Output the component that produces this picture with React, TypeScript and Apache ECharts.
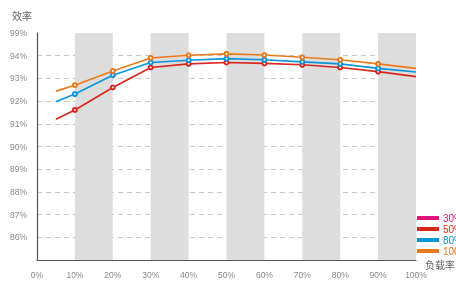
import React, { useEffect, useRef } from "react";
import * as echarts from "echarts";

const loadRates = [5, 10, 20, 30, 40, 50, 60, 70, 80, 90, 100];
const eff30: number[] = [];
const eff50 = [91.2, 91.61, 92.6, 93.48, 93.64, 93.7, 93.66, 93.6, 93.48, 93.3, 93.08];
const eff80 = [91.97, 92.31, 93.14, 93.7, 93.8, 93.87, 93.82, 93.73, 93.64, 93.44, 93.28];
const eff100 = [92.44, 92.7, 93.33, 93.9, 94.02, 94.08, 94.03, 93.93, 93.82, 93.64, 93.44];
const seriesNames = ["30%", "50%", "80%", "100%"];
const seriesColors = ["#e0157c", "#d9261c", "#0a94dc", "#ec7a1b"];
const yTickLabels: Record<number, string> = {
  86: "86%", 87: "87%", 88: "88%", 89: "89%", 90: "90%",
  91: "91%", 92: "92%", 93: "93%", 94: "94%", 95: "99%",
};
const xTickLabels = ["0%", "10%", "20%", "30%", "40%", "50%", "60%", "70%", "80%", "90%", "100%"];

const FONT = "'Liberation Sans', 'Noto Sans CJK SC', sans-serif";

function toPoints(vals: number[]) {
  return vals.map((v, i) => {
    const x = loadRates[i];
    const showSym = x !== 5 && x !== 100;
    return showSym ? [x, v] : { value: [x, v], symbol: "none" };
  });
}

export default function App() {
  const ref = useRef<HTMLDivElement>(null);
  useEffect(() => {
    if (!ref.current) return;
    const chart = echarts.init(ref.current, undefined, { renderer: "svg" });
    const all = [eff30, eff50, eff80, eff100];
    chart.setOption({
      animation: false,
      textStyle: { fontFamily: FONT },
      grid: { left: 37, right: 40, top: 33, bottom: 21, outerBoundsMode: "none", containLabel: false },
      legend: {
        orient: "vertical",
        left: 417,
        top: 213,
        padding: 0,
        icon: "rect",
        itemWidth: 22,
        itemHeight: 4,
        itemGap: 1,
        textStyle: { fontSize: 10, lineHeight: 10, padding: [0, 0, 0, -1] },
        data: seriesNames.map((n, i) => ({ name: n, textStyle: { color: seriesColors[i] } })),
      },
      xAxis: {
        type: "value",
        min: 0,
        max: 100,
        interval: 10,
        name: "负载率",
        nameLocation: "end",
        nameGap: 9,
        nameTextStyle: { color: "#666", fontSize: 10, verticalAlign: "top", padding: [0, 0, 0, 0] },
        axisLine: { lineStyle: { color: "#555", width: 1.2 } },
        axisTick: { show: false },
        axisLabel: {
          color: "#888",
          fontSize: 8.5,
          margin: 11,
          formatter: (v: number) => xTickLabels[Math.round(v / 10)] ?? "",
        },
        splitLine: { show: false },
        splitArea: { show: true, areaStyle: { color: ["rgba(255,255,255,0)", "#dddddd"] } },
      },
      yAxis: {
        type: "value",
        min: 85,
        max: 95,
        interval: 1,
        name: "效率",
        nameLocation: "end",
        nameGap: 12,
        nameTextStyle: { color: "#666", fontSize: 10, align: "right", padding: [0, 5, 0, 0] },
        axisLine: { show: true, lineStyle: { color: "#555", width: 1.2 } },
        axisTick: { show: false },
        axisLabel: {
          color: "#888",
          fontSize: 8.5,
          margin: 10,
          showMinLabel: false,
          formatter: (v: number) => yTickLabels[Math.round(v)] ?? "",
        },
        splitLine: { show: true, showMaxLine: false, lineStyle: { color: "#c8c8c8", type: [5, 4] } },
      },
      series: seriesNames.map((n, i) => ({
        name: n,
        type: "line",
        data: toPoints(all[i]),
        symbol: "emptyCircle",
        symbolSize: 4,
        color: seriesColors[i],
        lineStyle: { width: 1.6, color: seriesColors[i] },
        itemStyle: { color: seriesColors[i], borderWidth: 1.2 },
      })),
    });
    return () => chart.dispose();
  }, []);
  return <div ref={ref} style={{ position: "fixed", left: 0, top: 0, width: 456, height: 281 }} />;
}
